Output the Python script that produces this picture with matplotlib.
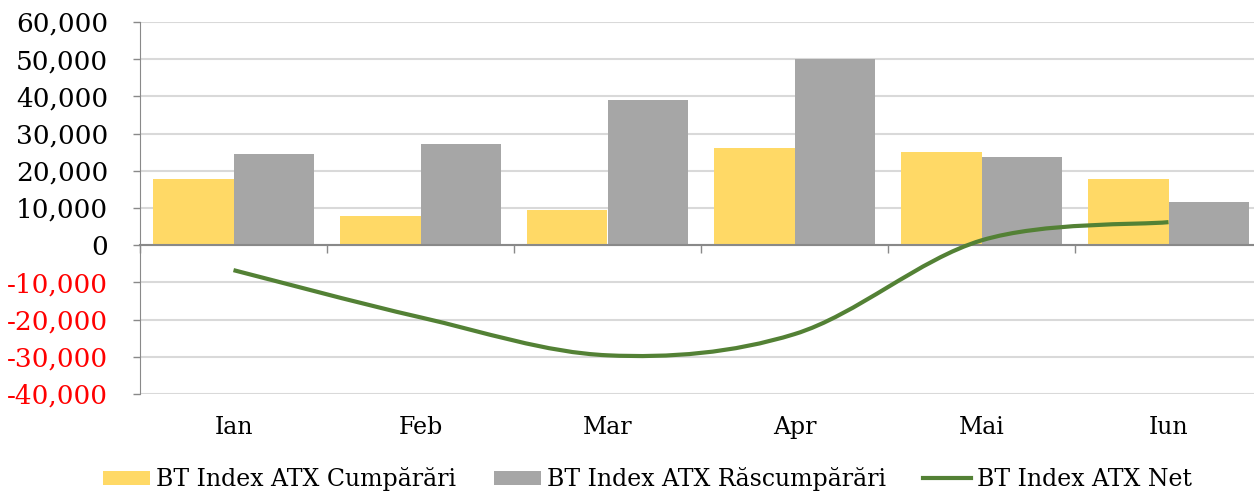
import matplotlib.pyplot as plt
import matplotlib.transforms as mtransforms
from matplotlib.path import Path
from matplotlib.patches import PathPatch
from matplotlib.lines import Line2D
from matplotlib.ticker import FuncFormatter

months = ["Ian", "Feb", "Mar", "Apr", "Mai", "Iun"]
cumparari = [17800, 7800, 9400, 26100, 25000, 17800]
rascumparari = [24500, 27200, 39000, 50000, 23700, 11600]
net = [-6700, -19400, -29600, -23900, 1300, 6200]

y_ticks = list(range(-40000, 60001, 10000))

c_yellow = "#FFD966"
c_gray = "#A6A6A6"
c_green = "#538135"
c_grid = "#D9D9D9"
c_axis = "#898989"

plt.rcParams['font.family'] = ['DejaVu Serif']

fig = plt.figure(figsize=(12.54, 4.94), dpi=100)
ax = fig.add_axes([140 / 1254, 1 - 394 / 494, 1122 / 1254, 372 / 494])

x = list(range(len(months)))
w = 0.43
ax.bar([i - w / 2 for i in x], cumparari, w, color=c_yellow, zorder=2,
       label="BT Index ATX Cumpărări")
ax.bar([i + w / 2 for i in x], rascumparari, w, color=c_gray, zorder=2,
       label="BT Index ATX Răscumpărări")

# smoothed line like excel (bezier through the points)
pts = list(zip(x, net))
verts = [pts[0]]
codes = [Path.MOVETO]
for i in range(len(pts) - 1):
    p0 = pts[i - 1] if i > 0 else pts[i]
    p1 = pts[i]
    p2 = pts[i + 1]
    p3 = pts[i + 2] if i + 2 < len(pts) else pts[i + 1]
    c1 = (p1[0] + (p2[0] - p0[0]) / 6, p1[1] + (p2[1] - p0[1]) / 6)
    c2 = (p2[0] - (p3[0] - p1[0]) / 6, p2[1] - (p3[1] - p1[1]) / 6)
    verts += [c1, c2, p2]
    codes += [Path.CURVE4] * 3
ax.add_patch(PathPatch(Path(verts, codes), facecolor="none", edgecolor=c_green,
                       lw=3, zorder=3, capstyle="butt"))

ax.set_xlim(-0.5, len(months) - 0.5)
ax.set_ylim(-40000, 60000)
ax.set_yticks(y_ticks)
ax.yaxis.set_major_formatter(FuncFormatter(lambda v, p: f"{int(v):,}"))
ax.grid(axis="y", color=c_grid, lw=1.5, zorder=0)
ax.set_axisbelow(True)

for lbl, v in zip(ax.get_yticklabels(), y_ticks):
    lbl.set_color("#FF0000" if v < 0 else "black")
ax.tick_params(axis="y", labelsize=19, length=5, width=1, color=c_axis, pad=18)

ax.spines["top"].set_visible(False)
ax.spines["right"].set_visible(False)
ax.spines["left"].set_color(c_axis)
ax.spines["bottom"].set_position(("data", 0))
ax.spines["bottom"].set_color(c_axis)
ax.spines["bottom"].set_linewidth(1.5)
ax.set_xticks([i + 0.5 for i in x[:-1]] + [-0.5])
ax.set_xticklabels([])
ax.tick_params(axis="x", length=6, width=1, color=c_axis)

trans = mtransforms.blended_transform_factory(ax.transData, ax.transAxes)
for i, m in enumerate(months):
    ax.text(i, -0.09, m, transform=trans, ha="center", va="center", fontsize=17)

handles, labels = ax.get_legend_handles_labels()
handles.append(Line2D([], [], color=c_green, lw=3))
labels.append("BT Index ATX Net")
fig.legend(handles, labels, loc="center", bbox_to_anchor=(0.516, 0.03), ncol=3,
           frameon=False, fontsize=17, handlelength=2.0, handleheight=0.55,
           columnspacing=1.6, handletextpad=0.25)

fig.savefig("out.png", dpi=100)
